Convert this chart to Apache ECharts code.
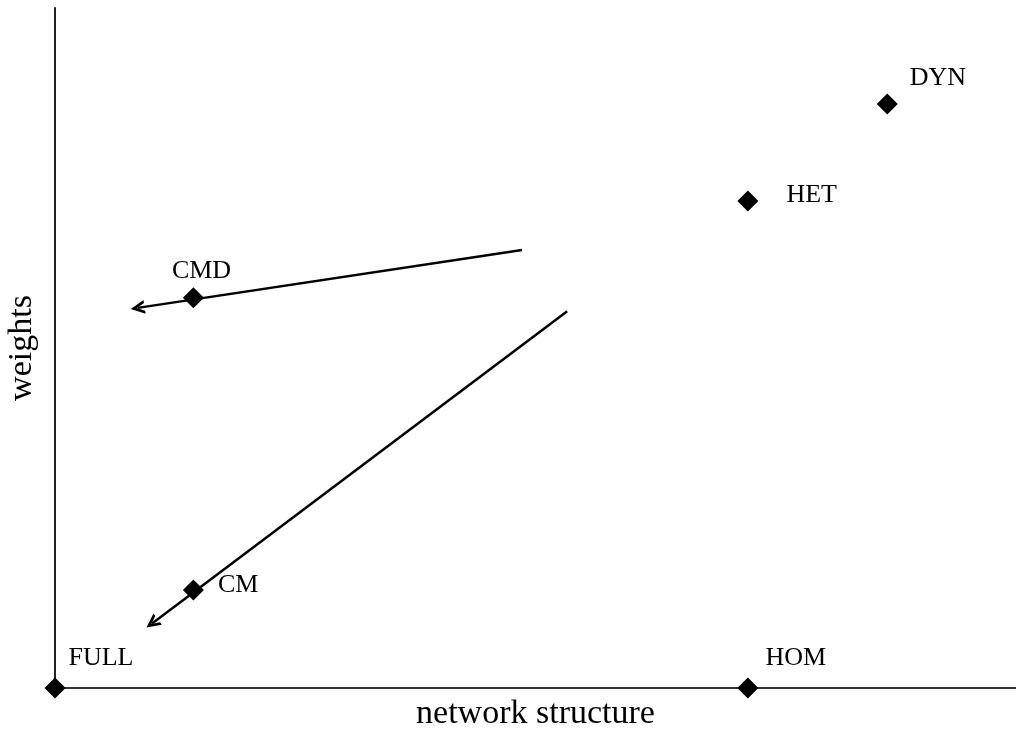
<!DOCTYPE html>
<html><head><meta charset="utf-8">
<script src="https://cdn.jsdelivr.net/npm/echarts@6/dist/echarts.min.js"></script>
<style>html,body{margin:0;padding:0;background:#fff}#c{width:1016px;height:729px}</style>
</head><body><div id="c"></div>
<script>
// Data (axis units 0..100)
const pointNames = ['FULL', 'HOM', 'CM', 'CMD', 'HET', 'DYN'];
const pointX = [0, 72.1, 14.4, 14.4, 72.1, 86.6];
const pointY = [0, 0, 14.4, 57.4, 71.6, 85.9];
// arrows: from -> to
const arrowFrom = [[48.6, 64.4], [53.3, 55.4]];
const arrowTo = [[8.6, 55.9], [10.1, 9.5]];
const xAxisTitle = 'network structure';
const yAxisTitle = 'weights';

// label styling (offsets in px)
const labelOffsets = [[3, -30], [7, -30], [14, -5], [-32, -27], [28, -6], [12, -26]];

const FONT = '"Liberation Serif", "DejaVu Serif", serif';
const chart = echarts.init(document.getElementById('c'), null, {renderer: 'canvas'});

const scatterData = pointNames.map((n, i) => ({
  name: n,
  value: [pointX[i], pointY[i]],
  label: {offset: labelOffsets[i]}
}));

const arrowData = arrowFrom.map((f, i) => ({coords: [f, arrowTo[i]]}));

chart.setOption({
  animation: false,
  backgroundColor: '#fff',
  grid: {left: 55, top: 8, right: 0, bottom: 41, containLabel: false, outerBoundsMode: 'none'},
  xAxis: {
    type: 'value', min: 0, max: 100,
    name: xAxisTitle, nameLocation: 'middle', nameGap: 9,
    nameTextStyle: {fontFamily: FONT, fontSize: 34, color: '#000'},
    axisLine: {show: true, onZero: false, lineStyle: {color: '#333', width: 2}},
    axisTick: {show: false}, axisLabel: {show: false}, splitLine: {show: false}
  },
  yAxis: {
    type: 'value', min: 0, max: 100,
    name: yAxisTitle, nameLocation: 'middle', nameGap: 16,
    nameTextStyle: {fontFamily: FONT, fontSize: 34, color: '#000'},
    axisLine: {show: true, onZero: false, lineStyle: {color: '#222', width: 2}},
    axisTick: {show: false}, axisLabel: {show: false}, splitLine: {show: false}
  },
  series: [
    {
      type: 'lines',
      coordinateSystem: 'cartesian2d',
      z: 2,
      symbol: ['none', 'path://M0,10 L6,0 L12,10 L9.4,10 L6,4.4 L2.6,10 Z'],
      symbolSize: [17, 14],
      lineStyle: {color: '#000', width: 2.5, opacity: 1, curveness: 0},
      itemStyle: {color: '#000'},
      data: arrowData,
      silent: true
    },
    {
      type: 'scatter',
      z: 3,
      symbol: 'diamond',
      symbolSize: [21, 21],
      itemStyle: {color: '#000', opacity: 1},
      label: {
        show: true, position: 'right', distance: 0,
        formatter: '{b}', fontFamily: FONT, fontSize: 26, color: '#000'
      },
      data: scatterData,
      clip: false
    }
  ]
});
</script>
</body></html>
